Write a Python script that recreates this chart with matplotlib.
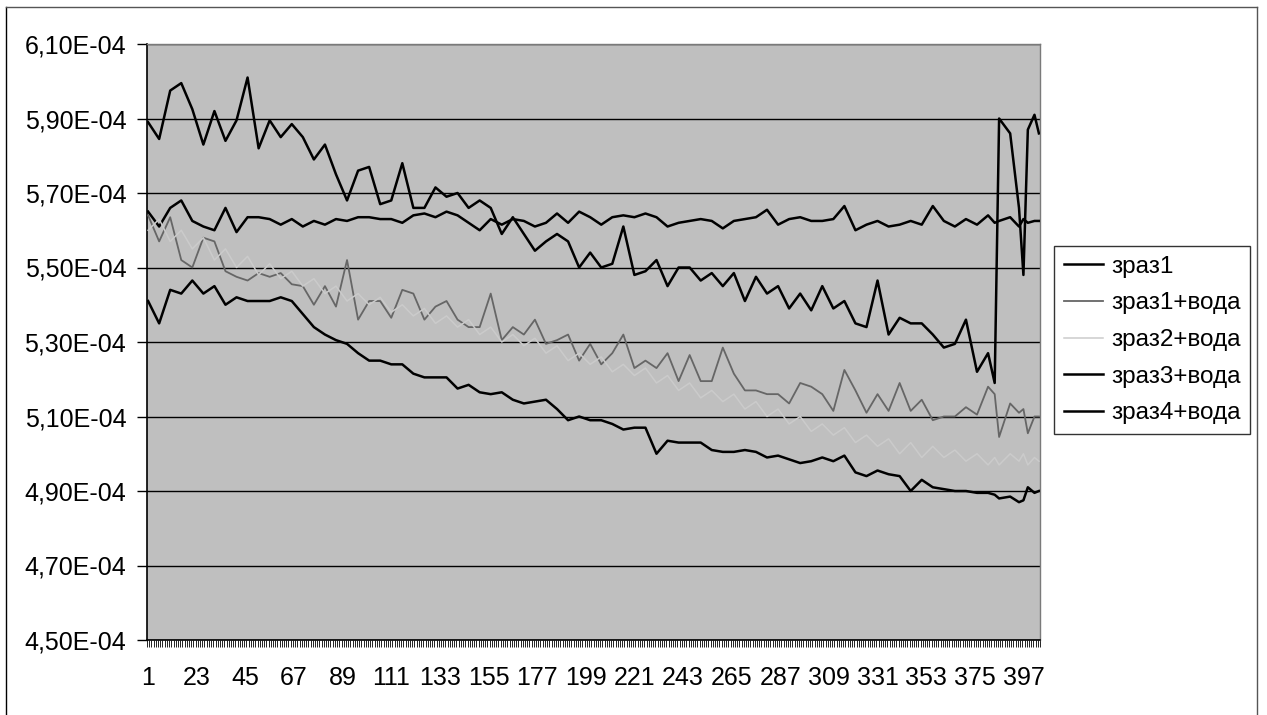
import numpy as np
import matplotlib
matplotlib.use("Agg")
import matplotlib.pyplot as plt
from matplotlib.ticker import FixedLocator, FuncFormatter
from matplotlib.lines import Line2D

plt.rcParams['font.family'] = ['Liberation Sans', 'DejaVu Sans']

idx = list(range(1, 382, 5)) + [384, 386, 391, 395, 397, 399, 402, 404]
n_cat = 404

# значення у одиницях 1E-04
zraz1 = [5.65, 5.61, 5.66, 5.68, 5.625, 5.61, 5.60, 5.66, 5.595, 5.635, 5.635, 5.63, 5.615, 5.63, 5.61, 5.625, 5.615, 5.63, 5.625, 5.635, 5.635,
         5.63, 5.63, 5.62, 5.64, 5.645, 5.635, 5.65, 5.64, 5.62, 5.60, 5.63, 5.615, 5.63, 5.625, 5.61, 5.62, 5.645, 5.62, 5.65, 5.635,
         5.615, 5.635, 5.64, 5.635, 5.645, 5.635, 5.61, 5.62, 5.625, 5.63, 5.625, 5.605, 5.625, 5.63, 5.635, 5.655, 5.615, 5.63, 5.635, 5.625,
         5.625, 5.63, 5.665, 5.60, 5.615, 5.625, 5.61, 5.615, 5.625, 5.615, 5.665, 5.625, 5.61, 5.63, 5.615, 5.64,
         5.62, 5.625, 5.635, 5.61, 5.63, 5.62, 5.625, 5.625]

zraz1_voda = [5.64, 5.57, 5.635, 5.52, 5.50, 5.58, 5.57, 5.49, 5.475, 5.465, 5.485, 5.475, 5.485, 5.455, 5.45, 5.40, 5.45, 5.395, 5.52, 5.36, 5.41,
              5.41, 5.365, 5.44, 5.43, 5.36, 5.395, 5.41, 5.36, 5.34, 5.34, 5.43, 5.305, 5.34, 5.32, 5.36, 5.295, 5.305, 5.32, 5.25, 5.295,
              5.24, 5.27, 5.32, 5.23, 5.25, 5.23, 5.27, 5.195, 5.265, 5.195, 5.195, 5.285, 5.215, 5.17, 5.17, 5.16, 5.16, 5.135, 5.19, 5.18,
              5.16, 5.115, 5.225, 5.17, 5.11, 5.16, 5.115, 5.19, 5.115, 5.145, 5.09, 5.10, 5.10, 5.125, 5.105, 5.18,
              5.16, 5.045, 5.135, 5.11, 5.12, 5.055, 5.10, 5.10]

zraz2_voda = [5.60, 5.63, 5.57, 5.60, 5.55, 5.58, 5.52, 5.55, 5.50, 5.53, 5.48, 5.51, 5.47, 5.49, 5.45, 5.47, 5.43, 5.45, 5.41, 5.43, 5.40,
              5.42, 5.38, 5.40, 5.37, 5.39, 5.35, 5.37, 5.34, 5.36, 5.32, 5.34, 5.30, 5.32, 5.29, 5.31, 5.27, 5.29, 5.25, 5.27, 5.24,
              5.26, 5.22, 5.24, 5.21, 5.23, 5.19, 5.21, 5.17, 5.19, 5.15, 5.17, 5.14, 5.16, 5.12, 5.14, 5.10, 5.12, 5.08, 5.10, 5.06,
              5.08, 5.05, 5.07, 5.03, 5.05, 5.02, 5.04, 5.00, 5.03, 4.99, 5.02, 4.99, 5.01, 4.98, 5.00, 4.97,
              4.99, 4.97, 5.00, 4.98, 5.00, 4.97, 4.99, 4.98]

zraz3_voda = [5.89, 5.845, 5.975, 5.995, 5.925, 5.83, 5.92, 5.84, 5.895, 6.01, 5.82, 5.895, 5.85, 5.885, 5.85, 5.79, 5.83, 5.75, 5.68, 5.76, 5.77,
              5.67, 5.68, 5.78, 5.66, 5.66, 5.715, 5.69, 5.70, 5.66, 5.68, 5.66, 5.59, 5.635, 5.59, 5.545, 5.57, 5.59, 5.57, 5.50, 5.54,
              5.50, 5.51, 5.61, 5.48, 5.49, 5.52, 5.45, 5.50, 5.50, 5.465, 5.485, 5.45, 5.485, 5.41, 5.475, 5.43, 5.45, 5.39, 5.43, 5.385,
              5.45, 5.39, 5.41, 5.35, 5.34, 5.465, 5.32, 5.365, 5.35, 5.35, 5.32, 5.285, 5.295, 5.36, 5.22, 5.27,
              5.19, 5.90, 5.86, 5.66, 5.48, 5.87, 5.91, 5.86]

zraz4_voda = [5.41, 5.35, 5.44, 5.43, 5.465, 5.43, 5.45, 5.40, 5.42, 5.41, 5.41, 5.41, 5.42, 5.41, 5.375, 5.34, 5.32, 5.305, 5.295, 5.27, 5.25,
              5.25, 5.24, 5.24, 5.215, 5.205, 5.205, 5.205, 5.175, 5.185, 5.165, 5.16, 5.165, 5.145, 5.135, 5.14, 5.145, 5.12, 5.09, 5.10, 5.09,
              5.09, 5.08, 5.065, 5.07, 5.07, 5.00, 5.035, 5.03, 5.03, 5.03, 5.01, 5.005, 5.005, 5.01, 5.005, 4.99, 4.995, 4.985, 4.975, 4.98,
              4.99, 4.98, 4.995, 4.95, 4.94, 4.955, 4.945, 4.94, 4.90, 4.93, 4.91, 4.905, 4.90, 4.90, 4.895, 4.895,
              4.89, 4.88, 4.885, 4.87, 4.875, 4.91, 4.895, 4.90]

labels = ['зраз1', 'зраз1+вода', 'зраз2+вода', 'зраз3+вода', 'зраз4+вода']
series = [zraz1, zraz1_voda, zraz2_voda, zraz3_voda, zraz4_voda]
colors = ['black', '#666666', '#cbcbcb', 'black', 'black']
widths = [1.8, 1.3, 1.1, 1.8, 1.8]

fig = plt.figure(figsize=(12.67, 7.15), dpi=100)
ax = fig.add_axes([147 / 1267, 75 / 715, (1040 - 147) / 1267, (640 - 44) / 715])
ax.set_facecolor('#bfbfbf')

for vals, lab, c, w in zip(series, labels, colors, widths):
    ax.plot(idx, np.array(vals) * 1e-4, color=c, lw=w, label=lab, zorder=3)

# осі
ax.set_xlim(0.5, n_cat + 0.5)
ax.set_ylim(4.5e-4, 6.1e-4)
ax.set_yticks(np.arange(4.5, 6.11, 0.2) * 1e-4)
ax.yaxis.set_major_formatter(FuncFormatter(lambda v, p: f"{v:.2E}".replace('.', ',')))
ax.grid(axis='y', color='black', lw=1.0, zorder=1)
ax.set_axisbelow(True)

ax.xaxis.set_major_locator(FixedLocator(np.arange(1, n_cat, 22)))
ax.xaxis.set_minor_locator(FixedLocator(np.arange(0.5, n_cat + 1, 1)))
ax.xaxis.set_major_formatter(FuncFormatter(lambda v, p: f"{int(round(v))}"))
ax.tick_params(axis='x', which='major', length=0, pad=19, labelsize=18)
ax.tick_params(axis='x', which='minor', length=5, width=0.6, direction='out')
ax.tick_params(axis='y', which='major', length=7, width=1, direction='out', pad=8, labelsize=18)

for s in ['left', 'bottom']:
    ax.spines[s].set_color('black')
    ax.spines[s].set_linewidth(1.2)
for s in ['top', 'right']:
    ax.spines[s].set_color('#7a7a7a')
    ax.spines[s].set_linewidth(1.0)

leg = ax.legend(loc='center left', bbox_to_anchor=(1054 / 1267, (715 - 340) / 715),
                bbox_transform=fig.transFigure, frameon=True, fancybox=False,
                edgecolor='black', fontsize=17.5, handlelength=1.6, handletextpad=0.35,
                labelspacing=0.6, borderpad=0.4, borderaxespad=0)
leg.get_frame().set_linewidth(1.0)

# рамка діаграми
fig.add_artist(Line2D([6 / 1267, 6 / 1267], [0, 1 - 7 / 715], transform=fig.transFigure, color='black', lw=1))
fig.add_artist(Line2D([6 / 1267, 1257 / 1267], [1 - 7 / 715, 1 - 7 / 715], transform=fig.transFigure, color='#555555', lw=1))
fig.add_artist(Line2D([1257 / 1267, 1257 / 1267], [0, 1 - 7 / 715], transform=fig.transFigure, color='#555555', lw=1))

fig.savefig('out.png', dpi=100)
